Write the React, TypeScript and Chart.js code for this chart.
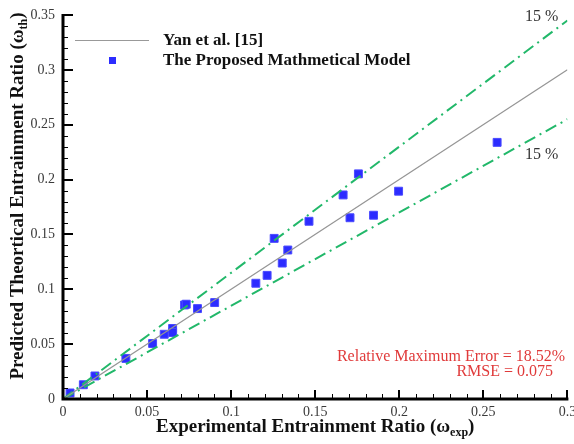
import React, { useEffect, useRef } from "react";
import { Chart, registerables } from "chart.js";

Chart.register(...registerables);

// Experimental vs. predicted entrainment ratios
const expRatio = [0.0042, 0.0121, 0.019, 0.0374, 0.0533, 0.0602, 0.0652, 0.0652, 0.0723, 0.0733, 0.08, 0.0902, 0.1147, 0.1214, 0.1304, 0.1337, 0.1256, 0.1463, 0.1666, 0.1757, 0.1707, 0.1847, 0.1996, 0.2582];
const thRatio = [0.0055, 0.013, 0.021, 0.037, 0.0506, 0.059, 0.0643, 0.0606, 0.0857, 0.0864, 0.0824, 0.0879, 0.1055, 0.1127, 0.1239, 0.1358, 0.1464, 0.162, 0.186, 0.2052, 0.1652, 0.1675, 0.1894, 0.2339];

// Reference lines (Yan et al. y = x, and ±15 % bounds)
const refX = [0, 0.3];
const yanLine = [0, 0.3];
const upper15 = [0, 0.345];
const lower15 = [0, 0.255];

// Axis ticks
const xTicks = [0, 0.05, 0.1, 0.15, 0.2, 0.25, 0.3];
const xTickLabels = ["0", "0.05", "0.1", "0.15", "0.2", "0.25", "0.3"];
const yTicks = [0, 0.05, 0.1, 0.15, 0.2, 0.25, 0.3, 0.35];
const yTickLabels = ["0", "0.05", "0.1", "0.15", "0.2", "0.25", "0.3", "0.35"];
const minorStep = 0.01;

const SERIF = '"Liberation Serif", "Times New Roman", serif';
const GREEN = "#22b86a";
const BLUE = "#2c2cff";

const drawPlugin = {
  id: "customAxes",
  afterDatasetsDraw(chart: any) {
    const ctx = chart.ctx;
    const xs = chart.scales.x;
    const ys = chart.scales.y;
    const x0 = xs.getPixelForValue(0);
    const y0 = ys.getPixelForValue(0);
    const xEnd = xs.getPixelForValue(0.3);
    const yEnd = ys.getPixelForValue(0.35);
    ctx.save();
    ctx.strokeStyle = "#000";
    ctx.lineCap = "butt";
    // minor ticks
    ctx.lineWidth = 1;
    ctx.beginPath();
    for (let v = 0; v <= 0.3 + 1e-9; v += minorStep) {
      const px = Math.round(xs.getPixelForValue(v)) + 0.5;
      ctx.moveTo(px, y0);
      ctx.lineTo(px, y0 - 5);
    }
    for (let v = 0; v <= 0.35 + 1e-9; v += minorStep) {
      const py = Math.round(ys.getPixelForValue(v)) + 0.5;
      ctx.moveTo(x0, py);
      ctx.lineTo(x0 + 5, py);
    }
    ctx.stroke();
    // major ticks
    ctx.lineWidth = 2;
    ctx.beginPath();
    xTicks.forEach((v) => {
      const px = Math.round(xs.getPixelForValue(v));
      ctx.moveTo(px, y0);
      ctx.lineTo(px, y0 - 9);
    });
    yTicks.forEach((v) => {
      const py = Math.round(ys.getPixelForValue(v));
      ctx.moveTo(x0, py);
      ctx.lineTo(x0 + 10, py);
    });
    ctx.stroke();
    // axis lines
    ctx.lineWidth = 3;
    ctx.beginPath();
    ctx.moveTo(x0, yEnd - 1);
    ctx.lineTo(x0, y0);
    ctx.lineTo(xEnd + 1, y0);
    ctx.stroke();

    // tick labels
    ctx.fillStyle = "#3a3a3a";
    ctx.font = `14px ${SERIF}`;
    ctx.textAlign = "center";
    ctx.textBaseline = "middle";
    xTicks.forEach((v, i) => {
      ctx.fillText(xTickLabels[i], xs.getPixelForValue(v), y0 + 13);
    });
    ctx.textAlign = "right";
    yTicks.forEach((v, i) => {
      ctx.fillText(yTickLabels[i], x0 - 8, ys.getPixelForValue(v));
    });

    // axis titles
    ctx.fillStyle = "#111";
    const bold = `bold 19px ${SERIF}`;
    const sub = `bold 12px ${SERIF}`;
    const drawTitle = (main: string, subTxt: string, cx: number, cy: number) => {
      ctx.font = bold;
      const w1 = ctx.measureText(main).width;
      const w3 = ctx.measureText(")").width;
      ctx.font = sub;
      const w2 = ctx.measureText(subTxt).width;
      const total = w1 + w2 + w3;
      let x = cx - total / 2;
      ctx.textAlign = "left";
      ctx.textBaseline = "middle";
      ctx.font = bold;
      ctx.fillText(main, x, cy);
      x += w1;
      ctx.font = sub;
      ctx.fillText(subTxt, x, cy + 6);
      x += w2;
      ctx.font = bold;
      ctx.fillText(")", x, cy);
    };
    drawTitle("Experimental Entrainment Ratio (\u03c9", "exp", (x0 + xEnd) / 2, 427);
    ctx.save();
    ctx.translate(18, 196);
    ctx.rotate(-Math.PI / 2);
    drawTitle("Predicted Theortical Entrainment Ratio (\u03c9", "th", 0, 0);
    ctx.restore();

    // legend
    ctx.strokeStyle = "#999";
    ctx.lineWidth = 1;
    ctx.beginPath();
    ctx.moveTo(75, 40.5);
    ctx.lineTo(149, 40.5);
    ctx.stroke();
    ctx.fillStyle = BLUE;
    ctx.fillRect(109, 57, 7, 7);
    ctx.fillStyle = "#111";
    ctx.font = `bold 17px ${SERIF}`;
    ctx.textAlign = "left";
    ctx.textBaseline = "middle";
    ctx.fillText("Yan et al. [15]", 163, 41);
    ctx.fillText("The Proposed Mathmetical Model", 163, 61);

    // 15 % labels
    ctx.fillStyle = "#333";
    ctx.font = `16px ${SERIF}`;
    ctx.fillText("15 %", 525, 17);
    ctx.fillText("15 %", 525, 155);

    // error annotation
    ctx.fillStyle = "#e03a3a";
    ctx.font = `16px ${SERIF}`;
    ctx.textAlign = "right";
    ctx.fillText("Relative Maximum Error = 18.52%", 565, 357);
    ctx.fillText("RMSE = 0.075", 553, 372);
    ctx.restore();
  },
};

export default function App() {
  const ref = useRef<HTMLCanvasElement>(null);
  useEffect(() => {
    document.body.style.margin = "0";
    const mk = (ys: number[]) => refX.map((x, i) => ({ x, y: ys[i] }));
    const chart = new Chart(ref.current!, {
      type: "scatter",
      data: {
        datasets: [
          {
            type: "line",
            label: "Yan et al. [15]",
            data: mk(yanLine),
            borderColor: "#959595",
            borderWidth: 1.2,
            pointRadius: 0,
            fill: false,
          },
          {
            type: "line",
            label: "+15 %",
            data: mk(upper15),
            borderColor: GREEN,
            borderWidth: 2,
            borderDash: [12, 5, 2, 5],
            pointRadius: 0,
            fill: false,
          },
          {
            type: "line",
            label: "-15 %",
            data: mk(lower15),
            borderColor: GREEN,
            borderWidth: 2,
            borderDash: [12, 5, 2, 5],
            pointRadius: 0,
            fill: false,
          },
          {
            label: "The Proposed Mathmetical Model",
            data: expRatio.map((x, i) => ({ x, y: thRatio[i] })),
            pointStyle: "rect",
            pointRadius: 5.6,
            backgroundColor: BLUE,
            borderColor: "#4a4aff",
            borderWidth: 1,
            clip: false,
          } as any,
        ],
      },
      options: {
        responsive: false,
        animation: false,
        layout: { padding: { left: 63, top: 15, right: 6, bottom: 45 } },
        plugins: { legend: { display: false }, tooltip: { enabled: false } },
        scales: {
          x: { type: "linear", display: false, min: 0, max: 0.3 },
          y: { type: "linear", display: false, min: 0, max: 0.35 },
        },
      },
      plugins: [drawPlugin],
    });
    return () => chart.destroy();
  }, []);
  return <canvas ref={ref} width={574} height={444} style={{ display: "block" }} />;
}
